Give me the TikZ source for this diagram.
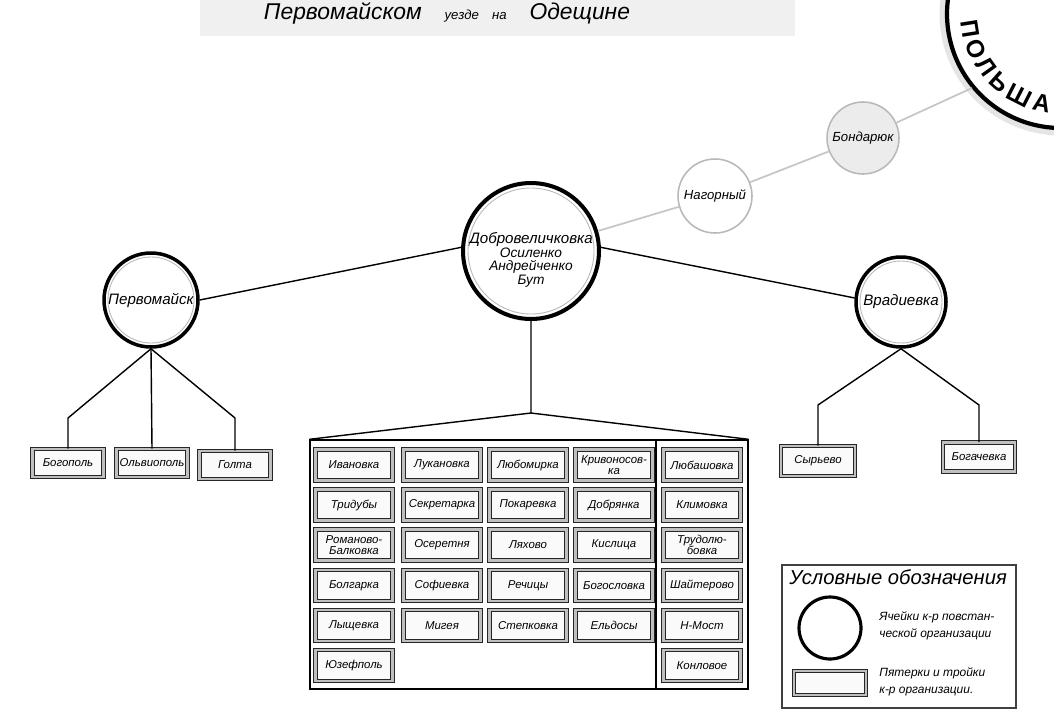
\documentclass[tikz,border=0pt]{standalone}
\usepackage{fontspec}
\setmainfont{Liberation Sans}
\usetikzlibrary{decorations.text}

\tikzset{
	town/.style={circle, draw=black, line width=2pt, fill=white, inner sep=0pt, font=\itshape\fontsize{8.6}{10}\selectfont},
	cell/.style={circle, draw=gray!55, line width=0.9pt, fill=white, inner sep=0pt, font=\itshape\fontsize{7.5}{8}\selectfont},
	inner ring/.style={draw=gray!55, line width=0.5pt},
	village/.style={rectangle, draw=black!85, double=gray!50, double distance=1.3pt, line width=0.5pt, fill=gray!4, minimum width=1.54cm, minimum height=0.62cm, inner sep=1pt, align=center, font=\itshape\fontsize{6.5}{6.5}\selectfont},
	link/.style={line width=0.8pt},
	route/.style={draw=gray!45, line width=1pt}
}

\begin{document}
\begin{tikzpicture}[x=0.02cm, y=-0.02cm]
	\useasboundingbox (0,0) rectangle (1054,727);
	% title strip
	\fill[gray!12] (200,0) rectangle (795,36);
	\node[anchor=base, font=\itshape, inner sep=0pt] (title) at (447,19) {\fontsize{13}{13}\selectfont Первомайском\quad{\fontsize{7.5}{7.5}\selectfont уезде\quad на}\quad Одещине};
	% border
	\coordinate (pol) at (1061,14);
	\draw[gray!20, line width=4pt] (pol) ++(195:118) arc[start angle=195, end angle=80, radius=118];
	\draw[line width=2.4pt] (pol) ++(195:114) arc[start angle=195, end angle=80, radius=114];
	\path[decorate, decoration={text along path, text align={fit to path}, text={|\bfseries\fontsize{14}{14}\selectfont|ПОЛЬША}}] (pol) ++(176:100) arc[start angle=176, end angle=97, radius=100];
	% circles
	\node[town, line width=2.3pt, minimum size=2.72cm] (main) at (531,251) {};
	\node[font=\itshape\fontsize{7.8}{7.8}\selectfont, align=center, inner sep=0pt] (maintext) at (531,260) {{\fontsize{8.6}{7.8}\selectfont Добровеличковка}\\Осиленко\\Андрейченко\\Бут};
	\node[town, minimum size=1.88cm] (perv) at (151,300) {Первомайск};
	\node[town, minimum size=1.8cm] (vrad) at (901,302) {Врадиевка};
	\node[cell, minimum size=1.48cm] (nag) at (715,196) {Нагорный};
	\node[cell, fill=gray!15, minimum size=1.44cm] (bond) at (863,138) {Бондарюк};
	\draw[inner ring] (main) circle[radius=63];
	\draw[inner ring] (perv) circle[radius=43];
	\draw[inner ring] (vrad) circle[radius=41];
	% route
	\coordinate (edge) at (972,88);
	\draw[route] (main) -- (nag) -- (bond) -- (edge);
	% left group
	\node[village, minimum width=1.42cm, minimum height=0.56cm] (bogo) at (68,463) {Богополь};
	\node[village, minimum width=1.42cm, minimum height=0.56cm] (olv) at (152,463) {Ольвиополь};
	\node[village, minimum width=1.42cm, minimum height=0.56cm] (golta) at (235,465) {Голта};
	\coordinate (p1) at (68,418);
	\coordinate (p3) at (235,418);
	\draw[link] (main.177) -- (perv.east);
	\draw[link] (perv.south) -- (p1) -- (bogo.north);
	\draw[link] (perv.south) -- (olv.north);
	\draw[link] (perv.south) -- (p3) -- (golta.north);
	% right group
	\node[village, minimum width=1.48cm, minimum height=0.6cm] (syr) at (818,461) {Сырьево};
	\node[village, minimum width=1.44cm, minimum height=0.58cm] (bogach) at (979,457) {Богачевка};
	\coordinate (v1) at (818,405);
	\coordinate (v2) at (979,405);
	\draw[link] (main.3) -- (vrad.175);
	\draw[link] (vrad.south) -- (v1) -- (syr.north);
	\draw[link] (vrad.south) -- (v2) -- (bogach.north);
	% middle group
	\node[draw, line width=0.8pt, minimum width=8.76cm, minimum height=4.98cm, inner sep=0pt] (grid) at (529,564.5) {};
	\coordinate (fork) at (531,413);
	\coordinate (split) at (656,440);
	\draw[link] (main) -- (fork) -- (grid.north west);
	\draw[link] (fork) -- (grid.north east);
	\draw[link] (split) -- (split |- grid.south);
	\node[village] (ivan) at (354,465) {Ивановка};
	\node[village] (lukan) at (442,465) {Лукановка};
	\node[village] (lyubom) at (528,465) {Любомирка};
	\node[village] (krivon) at (614,465) {Кривоносов-\\ка};
	\node[village] (lyubash) at (702,465) {Любашовка};
	\node[village] (tridub) at (354,505) {Тридубы};
	\node[village] (sekret) at (442,505) {Секретарка};
	\node[village] (pokar) at (528,505) {Покаревка};
	\node[village] (dobr) at (614,505) {Добрянка};
	\node[village] (klim) at (702,505) {Климовка};
	\node[village] (roman) at (354,545) {Романово-\\Балковка};
	\node[village] (oser) at (442,545) {Осеретня};
	\node[village] (lyakh) at (528,545) {Ляхово};
	\node[village] (kisl) at (614,545) {Кислица};
	\node[village] (trud) at (702,545) {Трудолю-\\бовка};
	\node[village] (bolg) at (354,585.5) {Болгарка};
	\node[village] (sofi) at (442,585.5) {Софиевка};
	\node[village] (rech) at (528,585.5) {Речицы};
	\node[village] (bogosl) at (614,585.5) {Богословка};
	\node[village] (shait) at (702,585.5) {Шайтерово};
	\node[village] (lysch) at (354,625.5) {Лыщевка};
	\node[village] (migeya) at (442,625.5) {Мигея};
	\node[village] (stepk) at (528,625.5) {Степковка};
	\node[village] (eldos) at (614,625.5) {Ельдосы};
	\node[village] (nmost) at (702,625.5) {Н-Мост};
	\node[village] (yuzef) at (354,665.5) {Юзефполь};
	\node[village] (konl) at (702,665.5) {Конловое};
	% legend
	\node[draw=black!75, line width=1.5pt, minimum width=4.68cm, minimum height=2.86cm, inner sep=0pt] (legend) at (899,636.5) {};
	\node[anchor=base west, inner sep=0pt, font=\itshape\fontsize{11.5}{11.5}\selectfont] (legtitle) at (789,584) {Условные обозначения};
	\node[circle, draw, line width=1.8pt, minimum size=1.24cm] (legring) at (830,628) {};
	\node[village, minimum width=1.44cm, minimum height=0.48cm] (legbox) at (830,683) {};
	\node[anchor=west, align=left, inner sep=0pt, font=\itshape\fontsize{6.8}{10}\selectfont] (legtext1) at (879,626) {Ячейки к-р повстан-\\ческой организации};
	\node[anchor=west, align=left, inner sep=0pt, font=\itshape\fontsize{6.8}{10}\selectfont] (legtext2) at (879,682) {Пятерки и тройки\\к-р организации.};
\end{tikzpicture}
\end{document}
